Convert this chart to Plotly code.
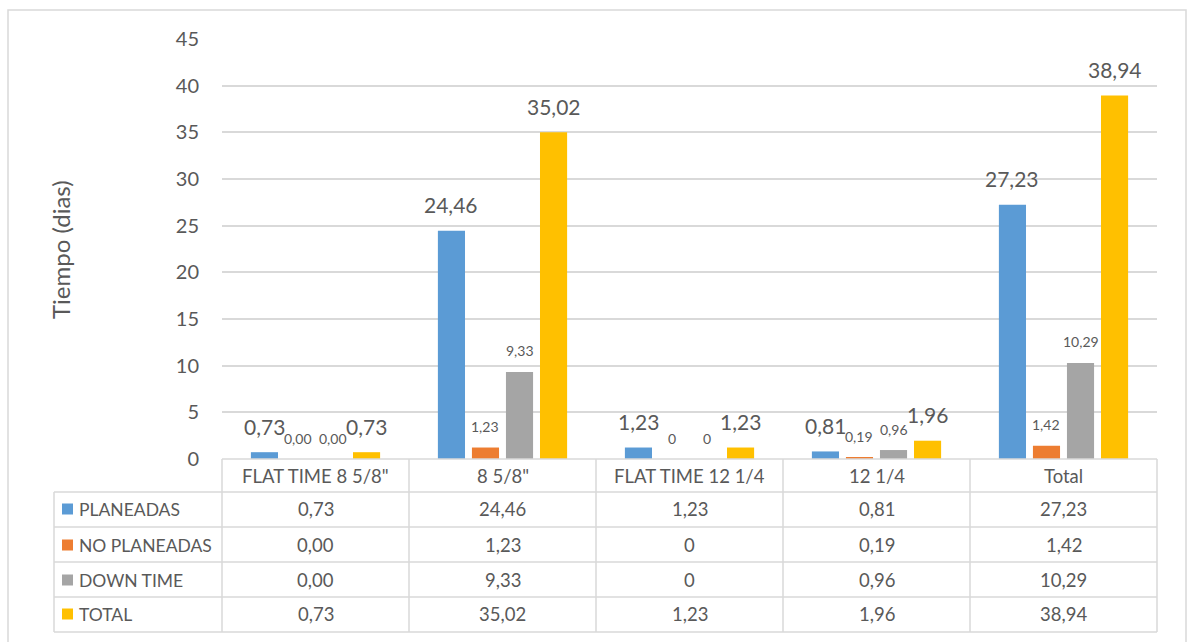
import plotly.graph_objects as go

# ---- data -------------------------------------------------------------
categories = ['FLAT TIME 8 5/8"', '8 5/8"', 'FLAT TIME 12 1/4', '12 1/4', 'Total']
series_names = ["PLANEADAS", "NO PLANEADAS", "DOWN TIME", "TOTAL"]
planeadas = [0.73, 24.46, 1.23, 0.81, 27.23]
no_planeadas = [0.00, 1.23, 0, 0.19, 1.42]
down_time = [0.00, 9.33, 0, 0.96, 10.29]
total = [0.73, 35.02, 1.23, 1.96, 38.94]
planeadas_txt = ["0,73", "24,46", "1,23", "0,81", "27,23"]
no_planeadas_txt = ["0,00", "1,23", "0", "0,19", "1,42"]
down_time_txt = ["0,00", "9,33", "0", "0,96", "10,29"]
total_txt = ["0,73", "35,02", "1,23", "1,96", "38,94"]
y_ticks = [0, 5, 10, 15, 20, 25, 30, 35, 40, 45]

colors = ["#5B9BD5", "#ED7D31", "#A5A5A5", "#FFC000"]
values = [planeadas, no_planeadas, down_time, total]
texts = [planeadas_txt, no_planeadas_txt, down_time_txt, total_txt]
label_big = [True, False, False, True]

FONT = "Lato"
TXT = "#595959"
GRID = "#D9D9D9"

W, H = 1188, 642
L, R, T, B = 222, 1157, 39, 459          # plot area in pixels


def px(x):
    return (x - L) / (R - L)


def py(y):
    return (B - y) / (B - T)


bar_w = 0.145
step = 0.182
xs = list(range(len(categories)))

fig = go.Figure()
annotations = []
shapes = []

for k, (name, vals, txts, col) in enumerate(zip(series_names, values, texts, colors)):
    off = (k - 1.5) * step
    fig.add_trace(go.Bar(
        x=xs, y=vals, name=name, marker=dict(color=col, line=dict(width=0)),
        width=bar_w, offset=off - bar_w / 2, showlegend=False,
    ))
    for i, (v, t) in enumerate(zip(vals, txts)):
        annotations.append(dict(
            x=i + off, y=v, xref="x", yref="y", text=t, showarrow=False,
            yanchor="middle", yshift=26 if label_big[k] else 21,
            font=dict(family=FONT, size=21 if label_big[k] else 14, color=TXT),
        ))

# ---- data table below the axis --------------------------------------
row_lines = [459, 492, 527, 562, 597, 632]
row_centers = [509, 545, 580, 614]
col_lines = [L + (R - L) * j / len(categories) for j in range(len(categories) + 1)]
table_left = 54
TABLE_FONT = 18.5
KEY_FONT = 17.5

# horizontal lines
shapes.append(dict(type="line", xref="paper", yref="paper", x0=px(L), x1=px(R),
                   y0=py(459), y1=py(459), line=dict(color=GRID, width=1.5)))
for yl in row_lines[1:]:
    shapes.append(dict(type="line", xref="paper", yref="paper", x0=px(table_left), x1=px(R),
                       y0=py(yl), y1=py(yl), line=dict(color=GRID, width=1.5)))
# vertical lines
for xl in col_lines:
    shapes.append(dict(type="line", xref="paper", yref="paper", x0=px(xl), x1=px(xl),
                       y0=py(459), y1=py(632), line=dict(color=GRID, width=1.5)))
shapes.append(dict(type="line", xref="paper", yref="paper", x0=px(table_left), x1=px(table_left),
                   y0=py(492), y1=py(632), line=dict(color=GRID, width=1.5)))

# header row: category names
for i, c in enumerate(categories):
    annotations.append(dict(x=i, y=py(476), xref="x", yref="paper", text=c, showarrow=False,
                            yanchor="middle", font=dict(family=FONT, size=TABLE_FONT, color=TXT)))

# series rows: legend key, name and values
for r, (name, txts, col) in enumerate(zip(series_names, texts, colors)):
    yc = row_centers[r]
    shapes.append(dict(type="rect", xref="paper", yref="paper", x0=px(62), x1=px(73),
                       y0=py(yc - 5.5), y1=py(yc + 5.5), fillcolor=col, line=dict(width=0)))
    annotations.append(dict(x=px(77), y=py(yc), xref="paper", yref="paper", text=name,
                            showarrow=False, xanchor="left", yanchor="middle",
                            font=dict(family=FONT, size=KEY_FONT, color=TXT)))
    for i, t in enumerate(txts):
        annotations.append(dict(x=i, y=py(yc), xref="x", yref="paper", text=t, showarrow=False,
                                yanchor="middle", font=dict(family=FONT, size=TABLE_FONT, color=TXT)))

# axis title
annotations.append(dict(x=px(60), y=py(250), xref="paper", yref="paper", text="Tiempo (dias)",
                        textangle=-90, showarrow=False, xanchor="center", yanchor="middle",
                        font=dict(family=FONT, size=24, color=TXT)))

# chart frame
shapes.append(dict(type="rect", xref="paper", yref="paper", x0=px(8), x1=px(1186),
                   y0=py(645), y1=py(10), line=dict(color="#D9D9D9", width=1.5),
                   fillcolor="rgba(0,0,0,0)", layer="below"))

fig.update_layout(
    width=W, height=H,
    margin=dict(l=L, r=W - R, t=T, b=H - B, pad=0),
    paper_bgcolor="white", plot_bgcolor="white",
    barmode="overlay",
    xaxis=dict(range=[-0.5, len(categories) - 0.5], showticklabels=False, showgrid=False,
               zeroline=False, showline=False, ticks=""),
    yaxis=dict(range=[0, 45], tickvals=y_ticks, showgrid=True, gridcolor=GRID, gridwidth=1.5,
               zeroline=False, showline=False, ticks="", ticklabelstandoff=22,
               tickfont=dict(family=FONT, size=20, color=TXT)),
    annotations=annotations,
    shapes=shapes,
    font=dict(family=FONT, color=TXT),
)

fig.write_html("out.html")
